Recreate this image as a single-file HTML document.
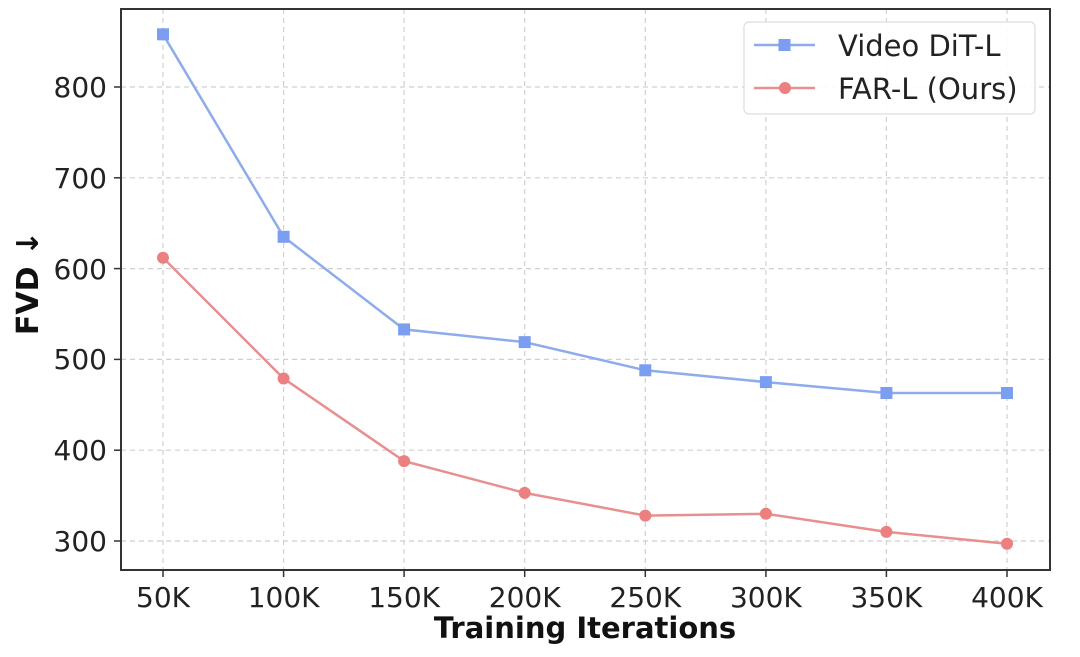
<!DOCTYPE html>
<html><head><style>body{margin:0;background:#fff}svg{display:block}</style></head><body>
<svg width="1080" height="657" viewBox="0 0 1080 657" xmlns="http://www.w3.org/2000/svg" font-family="DejaVu Sans, Liberation Sans, sans-serif">
<rect width="1080" height="657" fill="#fff"/>
<g stroke="#d0d0d0" stroke-width="1.2" stroke-dasharray="5,4">
<line x1="163" y1="9" x2="163" y2="570"/><line x1="283.6" y1="9" x2="283.6" y2="570"/><line x1="404.1" y1="9" x2="404.1" y2="570"/><line x1="524.7" y1="9" x2="524.7" y2="570"/><line x1="645.3" y1="9" x2="645.3" y2="570"/><line x1="765.9" y1="9" x2="765.9" y2="570"/><line x1="886.4" y1="9" x2="886.4" y2="570"/><line x1="1007" y1="9" x2="1007" y2="570"/>
<line x1="121" y1="87" x2="1050" y2="87"/><line x1="121" y1="177.8" x2="1050" y2="177.8"/><line x1="121" y1="268.6" x2="1050" y2="268.6"/><line x1="121" y1="359.4" x2="1050" y2="359.4"/><line x1="121" y1="450.2" x2="1050" y2="450.2"/><line x1="121" y1="541" x2="1050" y2="541"/>
</g>
<rect x="121" y="9" width="929" height="561" fill="none" stroke="#333" stroke-width="2"/>
<g stroke="#333" stroke-width="1.5">
<line x1="114" y1="87" x2="121" y2="87"/><line x1="114" y1="177.8" x2="121" y2="177.8"/><line x1="114" y1="268.6" x2="121" y2="268.6"/><line x1="114" y1="359.4" x2="121" y2="359.4"/><line x1="114" y1="450.2" x2="121" y2="450.2"/><line x1="114" y1="541" x2="121" y2="541"/>
<line x1="163" y1="570" x2="163" y2="577"/><line x1="283.6" y1="570" x2="283.6" y2="577"/><line x1="404.1" y1="570" x2="404.1" y2="577"/><line x1="524.7" y1="570" x2="524.7" y2="577"/><line x1="645.3" y1="570" x2="645.3" y2="577"/><line x1="765.9" y1="570" x2="765.9" y2="577"/><line x1="886.4" y1="570" x2="886.4" y2="577"/><line x1="1007" y1="570" x2="1007" y2="577"/>
</g>
<g font-size="28" fill="#222" text-anchor="end">
<text x="107" y="97">800</text><text x="107" y="188">700</text><text x="107" y="279">600</text><text x="107" y="369">500</text><text x="107" y="460">400</text><text x="107" y="551">300</text>
</g>
<g font-size="28" fill="#222" text-anchor="middle">
<text x="163" y="607">50K</text><text x="283.6" y="607">100K</text><text x="404.1" y="607">150K</text><text x="524.7" y="607">200K</text><text x="645.3" y="607">250K</text><text x="765.9" y="607">300K</text><text x="886.4" y="607">350K</text><text x="1007" y="607">400K</text>
</g>
<text x="585" y="638" font-size="29" font-weight="bold" text-anchor="middle" fill="#111">Training Iterations</text>
<text transform="translate(38,283) rotate(-90)" font-size="30" font-weight="bold" text-anchor="middle" fill="#111">FVD ↓</text>
<polyline fill="none" stroke="#8eacec" stroke-width="2.5" points="163,34.3 283.6,236.8 404.1,329.4 524.7,342.1 645.3,370.3 765.9,382.1 886.4,393 1007,393"/>
<g fill="#7b9ef0">
<rect x="157" y="28.3" width="12" height="12"/><rect x="277.6" y="230.8" width="12" height="12"/><rect x="398.1" y="323.4" width="12" height="12"/><rect x="518.7" y="336.1" width="12" height="12"/><rect x="639.3" y="364.3" width="12" height="12"/><rect x="759.9" y="376.1" width="12" height="12"/><rect x="880.4" y="387" width="12" height="12"/><rect x="1001" y="387" width="12" height="12"/>
</g>
<polyline fill="none" stroke="#e88f8f" stroke-width="2.5" points="163,257.7 283.6,378.5 404.1,461.1 524.7,492.9 645.3,515.6 765.9,513.8 886.4,531.9 1007,543.7"/>
<g fill="#ec7f7f">
<circle cx="163" cy="257.7" r="6"/><circle cx="283.6" cy="378.5" r="6"/><circle cx="404.1" cy="461.1" r="6"/><circle cx="524.7" cy="492.9" r="6"/><circle cx="645.3" cy="515.6" r="6"/><circle cx="765.9" cy="513.8" r="6"/><circle cx="886.4" cy="531.9" r="6"/><circle cx="1007" cy="543.7" r="6"/>
</g>
<rect x="744" y="22" width="291" height="92" rx="5" fill="#fff" fill-opacity="0.9" stroke="#ddd" stroke-width="1.2"/>
<line x1="754" y1="45" x2="815" y2="45" stroke="#8eacec" stroke-width="2.5"/><rect x="778.5" y="39" width="12" height="12" fill="#7b9ef0"/>
<line x1="754" y1="88" x2="815" y2="88" stroke="#e88f8f" stroke-width="2.5"/><circle cx="785" cy="88" r="6" fill="#ec7f7f"/>
<text x="838" y="56" font-size="29" fill="#222">Video DiT-L</text>
<text x="838" y="99" font-size="29" fill="#222">FAR-L (Ours)</text>
</svg>
</body></html>
